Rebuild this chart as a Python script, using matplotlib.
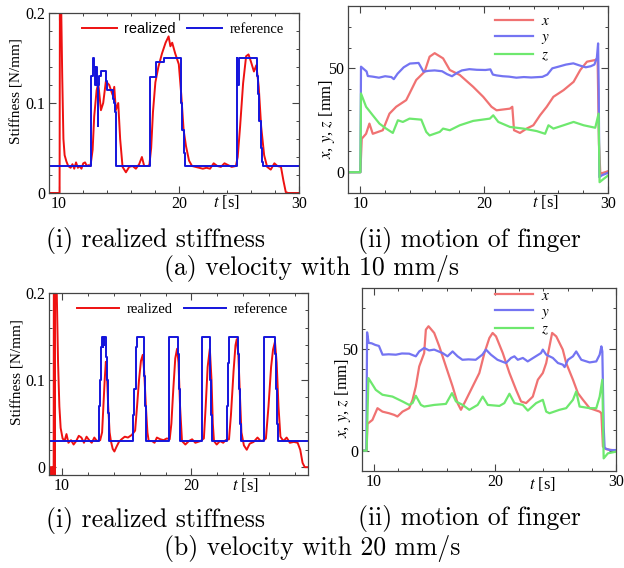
import numpy as np
import matplotlib
matplotlib.use('Agg')
import matplotlib.pyplot as plt
from matplotlib.ticker import MultipleLocator

# ---- stiffness, 10 mm/s : (t [s], stiffness [N/mm]) ----
stiff10_realized = np.array([
    (9.2, 0), (10.08, 0), (10.12, 0.3), (10.2, 0.22), (10.3, 0.13), (10.4, 0.06), (10.5, 0.042),
    (10.65, 0.035), (10.8, 0.03), (11.0, 0.028), (11.15, 0.032), (11.3, 0.027), (11.45, 0.034),
    (11.6, 0.028), (11.75, 0.03), (11.9, 0.027), (12.05, 0.033), (12.2, 0.034), (12.35, 0.03),
    (12.5, 0.031), (12.65, 0.03), (12.83, 0.048), (12.96, 0.085), (13.16, 0.114), (13.3, 0.122),
    (13.52, 0.092), (13.71, 0.1), (13.93, 0.124), (14.21, 0.12), (14.49, 0.109), (14.63, 0.118),
    (14.76, 0.092), (14.96, 0.1), (15.12, 0.06), (15.32, 0.029), (15.6, 0.023), (15.87, 0.029),
    (16.15, 0.03), (16.43, 0.027), (16.7, 0.032), (16.93, 0.04), (17.12, 0.03), (17.4, 0.03),
    (17.55, 0.031), (17.7, 0.05), (17.85, 0.09), (18.05, 0.123), (18.3, 0.14), (18.6, 0.155),
    (18.9, 0.167), (19.15, 0.174), (19.3, 0.163), (19.45, 0.167), (19.7, 0.155), (20.0, 0.143),
    (20.2, 0.11), (20.4, 0.07), (20.6, 0.052), (20.85, 0.036), (21.1, 0.03), (21.4, 0.029),
    (21.7, 0.028), (22.0, 0.027), (22.3, 0.028), (22.6, 0.027), (22.9, 0.033), (23.2, 0.03),
    (23.5, 0.029), (23.8, 0.033), (24.1, 0.031), (24.4, 0.029), (24.75, 0.03), (24.9, 0.04),
    (25.1, 0.074), (25.35, 0.122), (25.6, 0.152), (25.8, 0.154), (26.0, 0.146), (26.25, 0.135),
    (26.45, 0.142), (26.65, 0.118), (26.85, 0.074), (27.1, 0.042), (27.35, 0.029), (27.65, 0.026),
    (27.95, 0.033), (28.2, 0.03), (28.5, 0.029), (28.7, 0.014), (28.9, 0.001), (29.1, 0), (30, 0)])

# reference is piecewise constant (value holds until next time)
stiff10_reference = np.array([
    (9.2, 0.03), (12.68, 0.08), (12.71, 0.13), (12.82, 0.15), (12.98, 0.14), (13.03, 0.12),
    (13.08, 0.14), (13.16, 0.12), (13.24, 0.075), (13.3, 0.12), (13.36, 0.13), (13.5, 0.136),
    (13.98, 0.125), (14.05, 0.115), (14.5, 0.105), (14.6, 0.1), (14.68, 0.09), (14.74, 0.06),
    (14.8, 0.03), (17.58, 0.07), (17.6, 0.129), (18.1, 0.146), (18.75, 0.15), (20.15, 0.13),
    (20.22, 0.1), (20.3, 0.07), (20.4, 0.045), (20.5, 0.03), (24.8, 0.15), (24.86, 0.12),
    (24.98, 0.15), (26.5, 0.13), (26.6, 0.11), (26.7, 0.08), (26.82, 0.05), (26.92, 0.035),
    (27.02, 0.03), (30, 0.03)])

# ---- finger motion, 10 mm/s : (t [s], position [mm]) ----
motion10_x = np.array([
    (9.0, 0), (10.0, 0), (10.11, 16.1), (10.46, 18.5), (10.73, 23.4), (11.0, 18.5), (11.81, 20.2),
    (12.35, 28.2), (12.89, 31.5), (13.7, 34.7), (13.97, 37.9), (14.51, 44.4), (15.19, 48.4),
    (15.59, 55.6), (16.0, 57.3), (16.68, 54.8), (17.22, 49.2), (18.03, 46.8), (19.11, 41.1),
    (19.92, 36.3), (20.59, 31.5), (21.0, 29.8), (22.08, 30.6), (22.27, 31.5), (22.41, 20.2),
    (22.89, 18.9), (23.43, 21.0), (23.97, 22.6), (24.51, 27.4), (25.05, 31.5), (25.59, 36.3),
    (26.41, 39.5), (27.22, 43.5), (27.76, 49.2), (28.3, 53.2), (28.97, 54.0), (29.16, 54.8),
    (29.27, 13.7), (29.38, -0.8), (30.0, 0.5)])
motion10_y = np.array([
    (9.0, 0), (10.0, 0), (10.05, 50.8), (10.3, 49.5), (10.5, 48.5), (10.6, 46.3), (11.0, 46.0),
    (11.5, 45.5), (12.0, 46.2), (12.5, 45.8), (12.7, 44.8), (13.0, 47.4), (13.5, 50.5), (14.0, 52.3),
    (14.7, 52.6), (14.9, 50.5), (15.1, 48.4), (15.5, 48.8), (16.0, 49.0), (16.6, 48.6), (17.0, 47.2),
    (17.4, 46.2), (17.8, 47.8), (18.2, 49.0), (18.8, 49.6), (19.4, 49.3), (20.1, 49.2), (20.5, 49.5),
    (20.7, 47.0), (21.0, 46.6), (21.5, 46.2), (22.0, 46.0), (22.6, 45.5), (23.2, 45.8), (23.8, 45.6),
    (24.7, 45.9), (25.1, 47.0), (25.5, 50.0), (26.0, 50.8), (26.6, 51.8), (27.2, 52.4), (27.8, 51.2),
    (28.2, 50.5), (28.6, 51.0), (28.9, 51.8), (29.1, 55.0), (29.2, 62.0), (29.25, 40.0),
    (29.3, -2.4), (29.5, -1.5), (30.0, -0.3)])
motion10_z = np.array([
    (9.0, 0), (10.0, 0), (10.05, 37.9), (10.46, 31.5), (11.0, 27.4), (11.54, 23.4), (12.08, 21.0),
    (12.62, 18.9), (13.03, 25.0), (13.43, 24.2), (13.97, 25.8), (14.92, 25.3), (15.32, 19.4),
    (15.59, 17.7), (16.41, 19.4), (16.68, 21.0), (17.22, 20.2), (18.03, 22.6), (19.11, 24.7),
    (20.46, 25.8), (20.73, 27.4), (21.14, 24.2), (22.08, 21.8), (23.16, 21.0), (24.24, 19.8),
    (24.92, 18.5), (25.19, 22.6), (25.59, 21.0), (26.41, 22.6), (27.22, 24.2), (28.03, 22.6),
    (28.97, 21.4), (29.24, 28.2), (29.32, -4.8), (29.65, -3.2), (30.0, -1.6)])

# ---- stiffness, 20 mm/s ----
stiff20_realized = np.array([
    (9.0, -0.004), (9.05, 0), (9.1, -0.008), (9.15, 0), (9.2, -0.008), (9.25, 0), (9.3, -0.008),
    (9.36, 0), (9.38, 0.3), (9.44, -0.01), (9.48, 0.3), (9.6, 0.2), (9.7, 0.12), (9.8, 0.07),
    (9.9, 0.045), (10.05, 0.033), (10.2, 0.03), (10.35, 0.038), (10.5, 0.028), (10.7, 0.031),
    (10.9, 0.026), (11.1, 0.03), (11.3, 0.036), (11.5, 0.034), (11.7, 0.028), (11.9, 0.035),
    (12.1, 0.031), (12.3, 0.028), (12.5, 0.034), (12.7, 0.03), (12.95, 0.031), (13.1, 0.04),
    (13.2, 0.07), (13.3, 0.1), (13.39, 0.121), (13.47, 0.108), (13.57, 0.07), (13.68, 0.04),
    (13.78, 0.03), (13.92, 0.021), (14.05, 0.018), (14.2, 0.023), (14.4, 0.029), (14.6, 0.032),
    (14.85, 0.035), (15.1, 0.034), (15.39, 0.037), (15.55, 0.04), (15.65, 0.042), (15.8, 0.07),
    (15.95, 0.1), (16.1, 0.122), (16.24, 0.129), (16.35, 0.11), (16.48, 0.07), (16.6, 0.04),
    (16.7, 0.03), (16.95, 0.03), (17.15, 0.028), (17.33, 0.034), (17.6, 0.032), (17.85, 0.031),
    (18.1, 0.033), (18.32, 0.032), (18.45, 0.05), (18.6, 0.09), (18.75, 0.125), (18.89, 0.136),
    (19.0, 0.12), (19.12, 0.07), (19.27, 0.03), (19.53, 0.026), (19.8, 0.03), (20.05, 0.032),
    (20.3, 0.028), (20.7, 0.03), (20.96, 0.033), (21.1, 0.07), (21.25, 0.115), (21.42, 0.136),
    (21.55, 0.1), (21.65, 0.05), (21.74, 0.03), (21.95, 0.026), (22.2, 0.03), (22.45, 0.028),
    (22.64, 0.031), (22.9, 0.032), (23.05, 0.06), (23.25, 0.11), (23.4, 0.14), (23.5, 0.147),
    (23.62, 0.13), (23.75, 0.08), (23.86, 0.04), (24.05, 0.025), (24.27, 0.02), (24.5, 0.027),
    (24.8, 0.029), (25.1, 0.034), (25.35, 0.03), (25.6, 0.031), (25.75, 0.033), (25.95, 0.07),
    (26.15, 0.115), (26.3, 0.135), (26.45, 0.144), (26.58, 0.12), (26.72, 0.07), (26.87, 0.035),
    (27.1, 0.03), (27.35, 0.034), (27.6, 0.028), (27.9, 0.029), (28.2, 0.028), (28.4, 0.02),
    (28.58, 0.005), (28.75, 0.0), (29.0, 0.0)])
stiff20_reference = np.array([
    (9.0, 0.03), (12.88, 0.07), (12.93, 0.1), (12.98, 0.12), (13.02, 0.138), (13.06, 0.15),
    (13.14, 0.138), (13.18, 0.15), (13.25, 0.14), (13.28, 0.15), (13.4, 0.127), (13.48, 0.1),
    (13.56, 0.062), (13.65, 0.03), (15.52, 0.06), (15.6, 0.09), (15.68, 0.12), (15.75, 0.138),
    (15.82, 0.15), (16.3, 0.138), (16.35, 0.105), (16.4, 0.07), (16.46, 0.03), (18.24, 0.15),
    (18.98, 0.13), (19.04, 0.09), (19.1, 0.05), (19.15, 0.03), (20.78, 0.09), (20.83, 0.15),
    (21.42, 0.138), (21.47, 0.1), (21.53, 0.06), (21.6, 0.03), (22.77, 0.07), (22.82, 0.12),
    (22.88, 0.15), (23.6, 0.13), (23.67, 0.09), (23.74, 0.05), (23.8, 0.03), (25.57, 0.1),
    (25.62, 0.15), (26.45, 0.13), (26.52, 0.09), (26.59, 0.05), (26.65, 0.03), (29.0, 0.03)])

# ---- finger motion, 20 mm/s ----
motion20_x = np.array([
    (9.0, 0), (9.38, 0), (9.45, 13.2), (9.86, 15.1), (10.28, 20.9), (10.69, 19.2), (11.24, 18.4),
    (11.66, 17.6), (11.93, 16.8), (12.35, 19.2), (12.9, 20.9), (13.18, 25.0), (13.45, 31.6),
    (13.73, 41.4), (14.14, 48.0), (14.28, 59.5), (14.5, 61.2), (14.97, 57.9), (15.39, 51.3),
    (15.94, 41.4), (16.49, 31.6), (16.9, 23.4), (17.18, 20.1), (17.6, 25.0), (18.15, 31.6),
    (18.7, 38.2), (19.12, 48.0), (19.53, 55.4), (19.8, 57.9), (20.08, 56.2), (20.64, 48.0),
    (21.19, 38.2), (21.74, 29.9), (22.15, 24.2), (22.57, 23.4), (23.12, 26.6), (23.54, 34.9),
    (23.95, 38.2), (24.23, 43.1), (24.5, 51.3), (24.72, 57.9), (25.06, 56.2), (25.6, 49.7),
    (25.88, 43.1), (26.44, 34.9), (26.85, 28.3), (27.27, 25.0), (27.82, 20.9), (28.65, 19.2),
    (28.79, 18.4), (28.92, 2.0), (29.2, 0.7), (30.0, 0.0)])
motion20_y = np.array([
    (9.0, 0), (9.36, 0), (9.42, 58.2), (9.55, 53.0), (9.8, 52.8), (10.1, 52.0), (10.4, 51.5),
    (10.7, 47.2), (11.2, 47.4), (11.8, 47.2), (12.3, 47.8), (12.9, 47.7), (13.45, 46.4),
    (13.73, 48.8), (14.14, 50.5), (14.55, 49.3), (14.97, 49.7), (15.66, 48.0), (16.07, 46.4),
    (16.49, 48.8), (16.9, 46.4), (17.3, 44.7), (17.8, 44.9), (18.4, 44.7), (18.95, 47.2),
    (19.25, 49.7), (19.66, 47.2), (20.2, 44.7), (20.9, 43.1), (21.32, 45.6), (21.6, 46.4),
    (21.88, 44.7), (22.3, 45.6), (22.7, 43.9), (23.26, 46.0), (23.8, 48.0), (23.95, 49.7),
    (24.23, 47.2), (24.78, 45.6), (25.2, 43.1), (25.6, 42.3), (25.75, 41.1), (26.03, 44.7),
    (26.44, 46.4), (26.71, 48.8), (27.13, 44.7), (27.82, 43.4), (28.37, 43.9), (28.65, 47.2),
    (28.79, 51.3), (28.87, 48.8), (28.98, 11.8), (29.06, 1.2), (29.5, 0.3), (30.0, 0.3)])
motion20_z = np.array([
    (9.0, 0), (9.38, 0), (9.53, 35.7), (10.14, 29.9), (10.69, 27.5), (11.52, 26.6), (12.35, 24.2),
    (12.9, 22.5), (13.18, 23.4), (13.45, 27.0), (13.87, 22.5), (14.14, 21.7), (14.97, 22.5),
    (15.94, 23.0), (16.44, 28.3), (16.77, 24.2), (17.32, 22.5), (17.87, 20.1), (18.56, 22.5),
    (18.98, 26.6), (19.4, 22.5), (20.36, 22.0), (20.77, 23.4), (21.19, 28.0), (21.6, 23.4),
    (22.29, 22.5), (22.71, 19.7), (23.4, 23.4), (23.95, 25.0), (24.23, 19.2), (24.5, 18.4),
    (25.33, 20.1), (25.88, 20.9), (26.44, 25.0), (26.71, 29.1), (26.99, 21.7), (27.82, 20.9),
    (28.37, 20.9), (28.65, 26.6), (28.87, 34.9), (28.98, -3.8), (29.33, -1.3), (30.0, -0.5)])

stiff_yticks = [0, 0.1, 0.2]
stiff_yticklabels = ['0', '0.1', '0.2']
motion_yticks = [0, 50]
time_ticks = [10, 20, 30]

plt.rcParams['font.family'] = ['Liberation Serif', 'DejaVu Serif']
plt.rcParams['mathtext.fontset'] = 'stix'

W, H = 624, 568
fig = plt.figure(figsize=(W / 100, H / 100), dpi=100)


def add_axes_px(left, top, right, bottom):
    # axes box given in pixel coordinates of the figure (origin at top-left)
    return fig.add_axes([left / W, 1 - bottom / H, (right - left) / W, (bottom - top) / H])


def frame(ax, xlim, ylim, yminor):
    ax.set_xlim(*xlim)
    ax.set_ylim(*ylim)
    ax.set_xticks([t for t in time_ticks if xlim[0] <= t <= xlim[1]])
    ax.xaxis.set_minor_locator(MultipleLocator(2))
    ax.yaxis.set_minor_locator(MultipleLocator(yminor))
    ax.tick_params(which='both', direction='in', top=True, right=True,
                   color='#444444', labelsize=11.5, pad=2.5)
    ax.tick_params(which='major', length=5, width=0.8)
    ax.tick_params(which='minor', length=2.5, width=0.7)
    for sp in ax.spines.values():
        sp.set_color('#444444')
        sp.set_linewidth(0.9)


def time_label(ax, xfrac, ydown):
    ax.text(xfrac, ydown, '$t$ [s]', transform=ax.transAxes, ha='center', va='center', fontsize=12)


def stiffness_panel(ax, realized, reference, xlim, ylim, leg_x, ylab_pos, hlen):
    ax.plot(realized[:, 0], realized[:, 1], color='#ee1111', lw=1.4, label='realized')
    ax.plot(reference[:, 0], reference[:, 1], color='#1414dc', lw=1.4,
            drawstyle='steps-post', label='reference')
    frame(ax, xlim, ylim, 0.02)
    ax.set_yticks(stiff_yticks)
    ax.set_yticklabels(stiff_yticklabels)
    ax.text(ylab_pos[0], ylab_pos[1], 'Stiffness [N/mm]', transform=ax.transAxes,
            rotation=90, ha='center', va='center', fontsize=11)
    leg = ax.legend(loc='center', bbox_to_anchor=(leg_x, 0.91), ncol=2, frameon=False,
                    fontsize=10.5, handlelength=hlen, handletextpad=0.5, columnspacing=0.8,
                    borderpad=0, borderaxespad=0)
    return leg


def motion_panel(ax, mx, my, mz, leg_pos, ylab_pos):
    ax.plot(mx[:, 0], mx[:, 1], color='#f07272', lw=1.6, label='$x$')
    ax.plot(my[:, 0], my[:, 1], color='#7474f2', lw=1.6, label='$y$')
    ax.plot(mz[:, 0], mz[:, 1], color='#6ee86e', lw=1.6, label='$z$')
    frame(ax, (9, 30), (-10, 80), 10)
    ax.set_yticks(motion_yticks)
    ax.text(ylab_pos[0], ylab_pos[1], '$x$, $y$, $z$ [mm]', transform=ax.transAxes,
            rotation=90, ha='center', va='center', fontsize=12)
    ax.legend(loc='center left', bbox_to_anchor=leg_pos, frameon=False, fontsize=11,
              handlelength=2.5, handletextpad=0.5, labelspacing=0.15,
              borderpad=0, borderaxespad=0)


# (a) 10 mm/s
ax1 = add_axes_px(49, 13, 299, 193)
leg1 = stiffness_panel(ax1, stiff10_realized, stiff10_reference, (9.2, 30), (0, 0.2),
                       0.535, (-0.128, 0.567), 2.4)
leg1.get_texts()[0].set_family('Liberation Sans')
time_label(ax1, 0.71, -0.05)

ax2 = add_axes_px(348, 6, 608, 193)
motion_panel(ax2, motion10_x, motion10_y, motion10_z, (0.565, 0.824), (-0.081, 0.398))
time_label(ax2, 0.76, -0.047)

# (b) 20 mm/s
ax3 = add_axes_px(49, 293, 308, 475)
stiffness_panel(ax3, stiff20_realized, stiff20_reference, (9, 29), (-0.009, 0.2),
                0.515, (-0.12, 0.563), 2.9)
time_label(ax3, 0.757, -0.055)

ax4 = add_axes_px(362, 288, 616, 471)
motion_panel(ax4, motion20_x, motion20_y, motion20_z, (0.524, 0.863), (-0.075, 0.40))
time_label(ax4, 0.71, -0.07)

# sub-captions
cap = dict(ha='center', va='center', fontsize=18.5, family='cmr10')
fig.text(156 / W, 1 - 240 / H, '(i) realized stiffness', **cap)
fig.text(469 / W, 1 - 240 / H, '(ii) motion of finger', **cap)
fig.text(312 / W, 1 - 268 / H, '(a) velocity with 10 mm/s', **cap)
fig.text(156 / W, 1 - 521 / H, '(i) realized stiffness', **cap)
fig.text(469 / W, 1 - 519 / H, '(ii) motion of finger', **cap)
fig.text(312 / W, 1 - 549 / H, '(b) velocity with 20 mm/s', **cap)

fig.savefig('out.png', dpi=100)
